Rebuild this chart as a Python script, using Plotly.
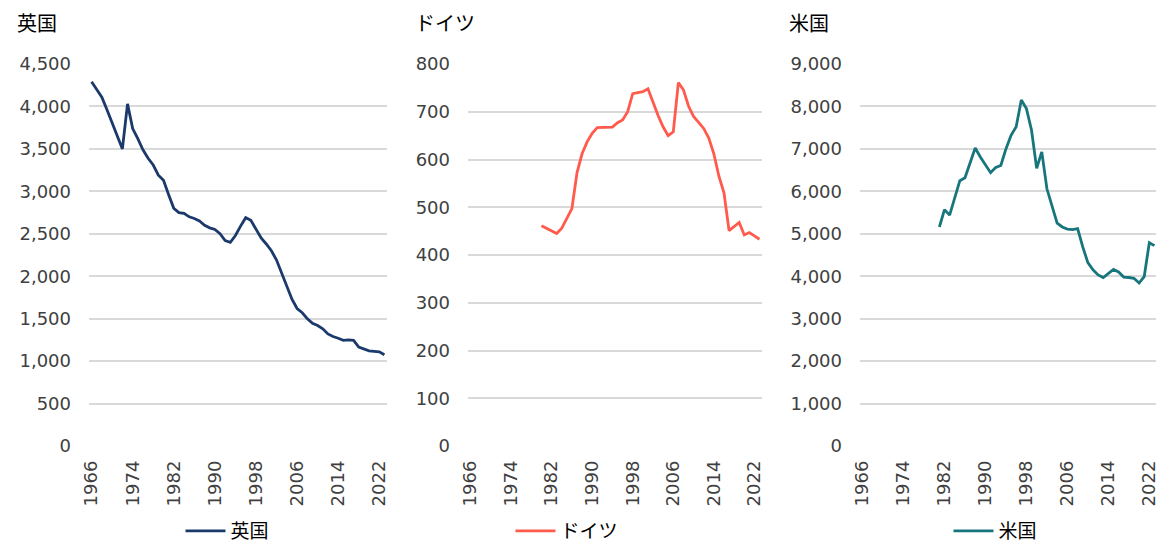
import plotly.graph_objects as go

# ---------------- data ----------------
years_uk = list(range(1966, 2024))
uk = [4290, 4200, 4110, 3960, 3810, 3660, 3500, 4030, 3740, 3620,
      3490, 3390, 3310, 3190, 3130, 2960, 2800, 2750, 2740, 2700,
      2680, 2650, 2600, 2570, 2550, 2500, 2420, 2400, 2480, 2590,
      2690, 2660, 2560, 2450, 2380, 2300, 2190, 2040, 1870, 1730,
      1620, 1570, 1500, 1445, 1420, 1380, 1320, 1290, 1270, 1245,
      1250, 1245, 1165, 1140, 1120, 1115, 1110, 1075]

years_de = list(range(1980, 2024))
de = [461, 456, 450, 445, 456, 476, 497, 572, 612, 637,
      655, 667, 667, 667, 668, 677, 683, 700, 738, 740,
      742, 748, 718, 692, 668, 650, 658, 761, 746, 712,
      690, 677, 665, 645, 612, 565, 530, 451, 460, 468,
      442, 447, 440, 433]

years_us = list(range(1981, 2024))
us = [5160, 5570, 5440, 5850, 6250, 6320, 6660, 7020, 6810, 6620,
      6440, 6560, 6610, 7000, 7320, 7520, 8150, 7950, 7440, 6540,
      6930, 6060, 5670, 5250, 5160, 5110, 5100, 5120, 4690, 4320,
      4150, 4030, 3970, 4060, 4160, 4100, 3980, 3970, 3950, 3840,
      3990, 4790, 4720]

x_tickvals = list(range(1966, 2023, 8))
titles = ["英国", "ドイツ", "米国"]
colors = ["#1B3A6B", "#FF5A4C", "#17767C"]

# the page body has an 8px margin: lay out in window pixels, minus offset
OFF = 8
W, H = 1164 - OFF, 547 - OFF
CJK = "Noto Sans CJK JP"
NUM = "DejaVu Sans"
GRID = "#D9D9D9"
TICKC = "#404040"


def px_x(X):
    return (X - OFF) / W


def px_y(Y):
    return 1 - (Y - OFF) / H


# window-pixel geometry of plot areas
panels_px = [(89, 387), (468, 762), (860, 1157)]
y_top, y_bot = 64, 446
ydom = [px_y(y_bot), px_y(y_top)]

fig = go.Figure()

series = [(years_uk, uk), (years_de, de), (years_us, us)]
legend_names = ["legend", "legend2", "legend3"]
for i, (xs, ys) in enumerate(series):
    sfx = "" if i == 0 else str(i + 1)
    fig.add_trace(go.Scatter(
        x=xs, y=ys, mode="lines", name=titles[i],
        line=dict(color=colors[i], width=2.8),
        xaxis="x" + sfx, yaxis="y" + sfx,
        legend=legend_names[i], showlegend=True,
    ))

yranges = [(0, 4500, 500), (0, 800, 100), (0, 9000, 1000)]
layout = {}
for i in range(3):
    sfx = "" if i == 0 else str(i + 1)
    x0, x1 = panels_px[i]
    layout["xaxis" + sfx] = dict(
        domain=[px_x(x0), min(px_x(x1), 1.0)], anchor="y" + sfx,
        range=[1965.5, 2023.5], tickvals=x_tickvals, tickangle=-90,
        showgrid=False, zeroline=False, showline=False, ticks="",
        tickfont=dict(family=NUM, size=18, color=TICKC),
        ticklabelstandoff=10, fixedrange=True, automargin=False,
    )
    lo, hi, dt = yranges[i]
    layout["yaxis" + sfx] = dict(
        domain=ydom, anchor="x" + sfx,
        range=[lo, hi], dtick=dt, tick0=0, tickformat=",",
        showgrid=True, gridcolor=GRID, gridwidth=1.6,
        zeroline=False, showline=False, ticks="",
        tickfont=dict(family=NUM, size=18, color=TICKC),
        ticklabelstandoff=17, fixedrange=True, automargin=False,
    )

legend_centers = [227.5, 567, 995.5]
for i, name in enumerate(legend_names):
    layout[name] = dict(
        x=px_x(legend_centers[i]), y=px_y(531),
        xanchor="center", yanchor="middle", orientation="h",
        font=dict(family=CJK, size=19, color="#000000"),
        bgcolor="rgba(0,0,0,0)", itemwidth=40,
    )

title_x = [15, 413, 787]
annotations = []
for i, t in enumerate(titles):
    annotations.append(dict(
        text=t, x=px_x(title_x[i]), y=px_y(22), xref="paper", yref="paper",
        xanchor="left", yanchor="middle", showarrow=False,
        font=dict(family=CJK, size=20, color="#000000"),
    ))

fig.update_layout(
    width=W, height=H,
    margin=dict(l=0, r=0, t=0, b=0, autoexpand=False),
    paper_bgcolor="white", plot_bgcolor="white",
    annotations=annotations,
    **layout,
)

fig.write_html("out.html")
